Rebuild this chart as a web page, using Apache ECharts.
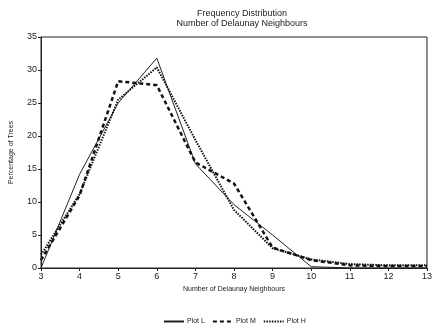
<!DOCTYPE html>
<html><head><meta charset="utf-8">
<script src="https://cdn.jsdelivr.net/npm/echarts@6/dist/echarts.min.js"></script>
<style>html,body{margin:0;padding:0;background:#fff}#c{width:435px;height:330px}</style>
</head><body><div id="c"></div>
<script>
const xValues = [3, 4, 5, 6, 7, 8, 9, 10, 11, 12, 13];
const plotL = [0, 14.2, 25, 31.8, 15.8, 9.6, 5, 0.2, 0, 0, 0];
const plotM = [1.2, 11, 28.3, 27.7, 16, 12.8, 3.1, 1.2, 0.4, 0.3, 0.3];
const plotH = [2, 11.2, 25.5, 30.4, 19.4, 8.8, 3, 1.3, 0.6, 0.4, 0.4];
const yTicks = [0, 5, 10, 15, 20, 25, 30, 35];
const seriesNames = ['Plot L', 'Plot M', 'Plot H'];

const pair = arr => xValues.map((x, i) => [x, arr[i]]);
const font = 'Liberation Sans, Arial, sans-serif';
const chart = echarts.init(document.getElementById('c'));
chart.setOption({
  animation: false,
  backgroundColor: '#fff',
  title: {
    text: 'Frequency Distribution\nNumber of Delaunay Neighbours',
    left: 237, top: 4, textAlign: 'center',
    textStyle: {fontSize: 9, fontWeight: 'normal', color: '#222', fontFamily: font, lineHeight: 10}
  },
  legend: {
    bottom: 0, left: 158,
    itemWidth: 20, itemHeight: 6, itemGap: 7,
    itemStyle: {opacity: 0},
    textStyle: {fontSize: 7, color: '#222', fontFamily: font, padding: [0, 0, 0, -2]},
    data: seriesNames
  },
  grid: {left: 40, right: 1, top: 37, bottom: 62, show: true, borderColor: '#222', borderWidth: 1},
  xAxis: {
    type: 'value', min: 3, max: 13, interval: 1,
    name: 'Number of Delaunay Neighbours', nameLocation: 'middle', nameGap: 18,
    nameTextStyle: {fontSize: 7, color: '#222', fontFamily: font},
    axisLine: {lineStyle: {color: '#222'}},
    axisTick: {show: true, length: 3, lineStyle: {color: '#222'}},
    axisLabel: {fontSize: 9, color: '#222', fontFamily: font, margin: 4},
    splitLine: {show: false}
  },
  yAxis: {
    type: 'value', min: 0, max: 35, interval: 5,
    name: 'Percentage of Trees', nameLocation: 'middle', nameGap: 26,
    nameTextStyle: {fontSize: 7, color: '#222', fontFamily: font},
    axisLine: {show: true, lineStyle: {color: '#222'}},
    axisTick: {show: true, length: 3, lineStyle: {color: '#222'}},
    axisLabel: {fontSize: 9, color: '#222', fontFamily: font, margin: 4,
      formatter: v => yTicks.includes(v) ? String(v) : ''},
    splitLine: {show: false}
  },
  series: [
    {name: seriesNames[0], type: 'line', data: pair(plotL), symbol: 'none',
     lineStyle: {color: '#222', width: 1, type: 'solid'}, itemStyle: {color: '#222'}},
    {name: seriesNames[1], type: 'line', data: pair(plotM), symbol: 'none',
     lineStyle: {color: '#111', width: 2.5, type: [4, 3]}, itemStyle: {color: '#111'}},
    {name: seriesNames[2], type: 'line', data: pair(plotH), symbol: 'none',
     lineStyle: {color: '#111', width: 2, type: [1.5, 1.2]}, itemStyle: {color: '#111'}}
  ]
});
</script></body></html>
